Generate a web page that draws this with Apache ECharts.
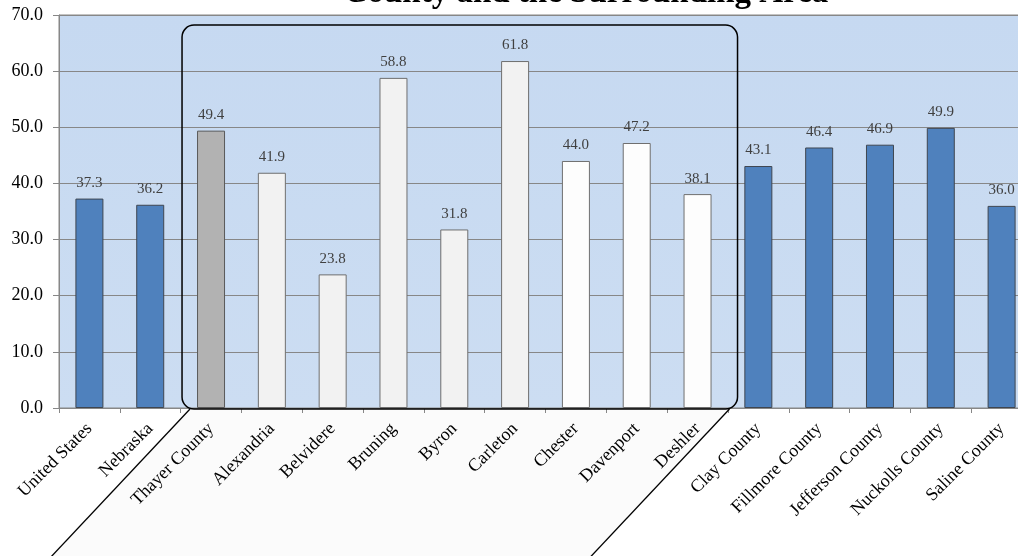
<!DOCTYPE html>
<html>
<head>
<meta charset="utf-8">
<script src="https://cdn.jsdelivr.net/npm/echarts@6/dist/echarts.min.js"></script>
<style>
html,body{margin:0;padding:0;background:#fff;}
#c{width:1018px;height:556px;}
</style>
</head>
<body>
<div id="c"></div>
<script>
const categories = ['United States','Nebraska','Thayer County','Alexandria','Belvidere','Bruning','Byron','Carleton','Chester','Davenport','Deshler','Clay County','Fillmore County','Jefferson County','Nuckolls County','Saline County'];
const values = [37.3, 36.2, 49.4, 41.9, 23.8, 58.8, 31.8, 61.8, 44.0, 47.2, 38.1, 43.1, 46.4, 46.9, 49.9, 36.0];
const groups = ['ref','ref','county','townA','townA','townA','townA','townA','townB','townB','townB','ref','ref','ref','ref','ref'];
const yTicks = [0, 10, 20, 30, 40, 50, 60, 70];
const titleText = 'County and the Surrounding Area';

const groupStyle = {
  ref:    {color:'#4F81BD', borderColor:'#3F4650'},
  county: {color:'#B2B2B2', borderColor:'#595959'},
  townA:  {color:'#F2F2F2', borderColor:'#6F6F6F'},
  townB:  {color:'#FDFDFD', borderColor:'#6F6F6F'}
};
const serif = '"Liberation Serif","DejaVu Serif",serif';

const chart = echarts.init(document.getElementById('c'), null, {renderer:'canvas'});
const option = {
  animation: false,
  backgroundColor: '#ffffff',
  grid: {
    left: 59, top: 15, right: -14, bottom: 148,
    outerBoundsMode: 'none',
    containLabel: false,
    show: true,
    borderColor: '#878787', borderWidth: 1,
    backgroundColor: {
      type:'linear', x:0, y:0, x2:0, y2:1,
      colorStops:[{offset:0,color:'#C6D9F1'},{offset:1,color:'#CCDDF2'}]
    }
  },
  xAxis: {
    type: 'category',
    data: categories,
    axisLine: {show:true, lineStyle:{color:'#878787', width:1}},
    axisTick: {show:true, length:5, lineStyle:{color:'#878787'}},
    axisLabel: {interval:0, rotate:45, margin:18, color:'#000', fontFamily:serif, fontSize:18}
  },
  yAxis: {
    type: 'value',
    min: yTicks[0], max: yTicks[yTicks.length-1], interval: 10,
    axisLine: {show:true, lineStyle:{color:'#878787', width:1}},
    axisTick: {show:true, length:6, lineStyle:{color:'#878787'}},
    splitLine: {show:true, lineStyle:{color:'#878787', width:1}},
    axisLabel: {margin:16, color:'#000', fontFamily:serif, fontSize:18, formatter: v => v.toFixed(1)}
  },
  series: [{
    type: 'bar',
    barWidth: 28,
    data: values.map((v,i) => ({
      value: v,
      itemStyle: {color: groupStyle[groups[i]].color, borderColor: groupStyle[groups[i]].borderColor, borderWidth: 1}
    })),
    label: {
      show: true, position: 'top', distance: 8,
      color: '#404040', fontFamily: serif, fontSize: 15,
      formatter: p => p.value.toFixed(1)
    }
  }]
};
chart.setOption(option);

function px(idx, val){ return chart.convertToPixel({xAxisIndex:0, yAxisIndex:0}, [idx, val]); }
const firstIn = groups.indexOf('county');
const lastIn = groups.lastIndexOf('townB');
const pL = px(firstIn, 0), pR = px(lastIn, 0), pT = px(firstIn, 68.2);
const rx0 = pL[0] - 29, rx1 = pR[0] + 40, ry0 = pT[1], ry1 = pL[1] + 1;
const r = 12;
const slope = 0.94;
const depth = 160;
const tl = [rx0 + 8, ry1], tr = [rx1 - 8, ry1];
const bl = [tl[0] - depth*slope, ry1 + depth], br = [tr[0] - depth*slope, ry1 + depth];

chart.setOption({
  graphic: [
    {type:'polygon', z:-5, silent:true, shape:{points:[tl, tr, br, bl]}, style:{fill:'#FBFBFB', stroke:null}},
    {type:'rect', z:100, silent:true, shape:{x:rx0, y:ry0, width:rx1-rx0, height:ry1-ry0, r:r}, style:{fill:null, stroke:'#000', lineWidth:1.5}},
    {type:'line', z:100, silent:true, shape:{x1:tl[0], y1:tl[1], x2:bl[0], y2:bl[1]}, style:{stroke:'#000', lineWidth:1.3}},
    {type:'line', z:100, silent:true, shape:{x1:tr[0], y1:tr[1], x2:br[0], y2:br[1]}, style:{stroke:'#000', lineWidth:1.3}},
    {type:'text', z:100, silent:true, x:586, y:-7, style:{text:titleText, fill:'#000', font:'bold 33px ' + serif, textAlign:'center', textVerticalAlign:'middle'}}
  ]
});
</script>
</body>
</html>
